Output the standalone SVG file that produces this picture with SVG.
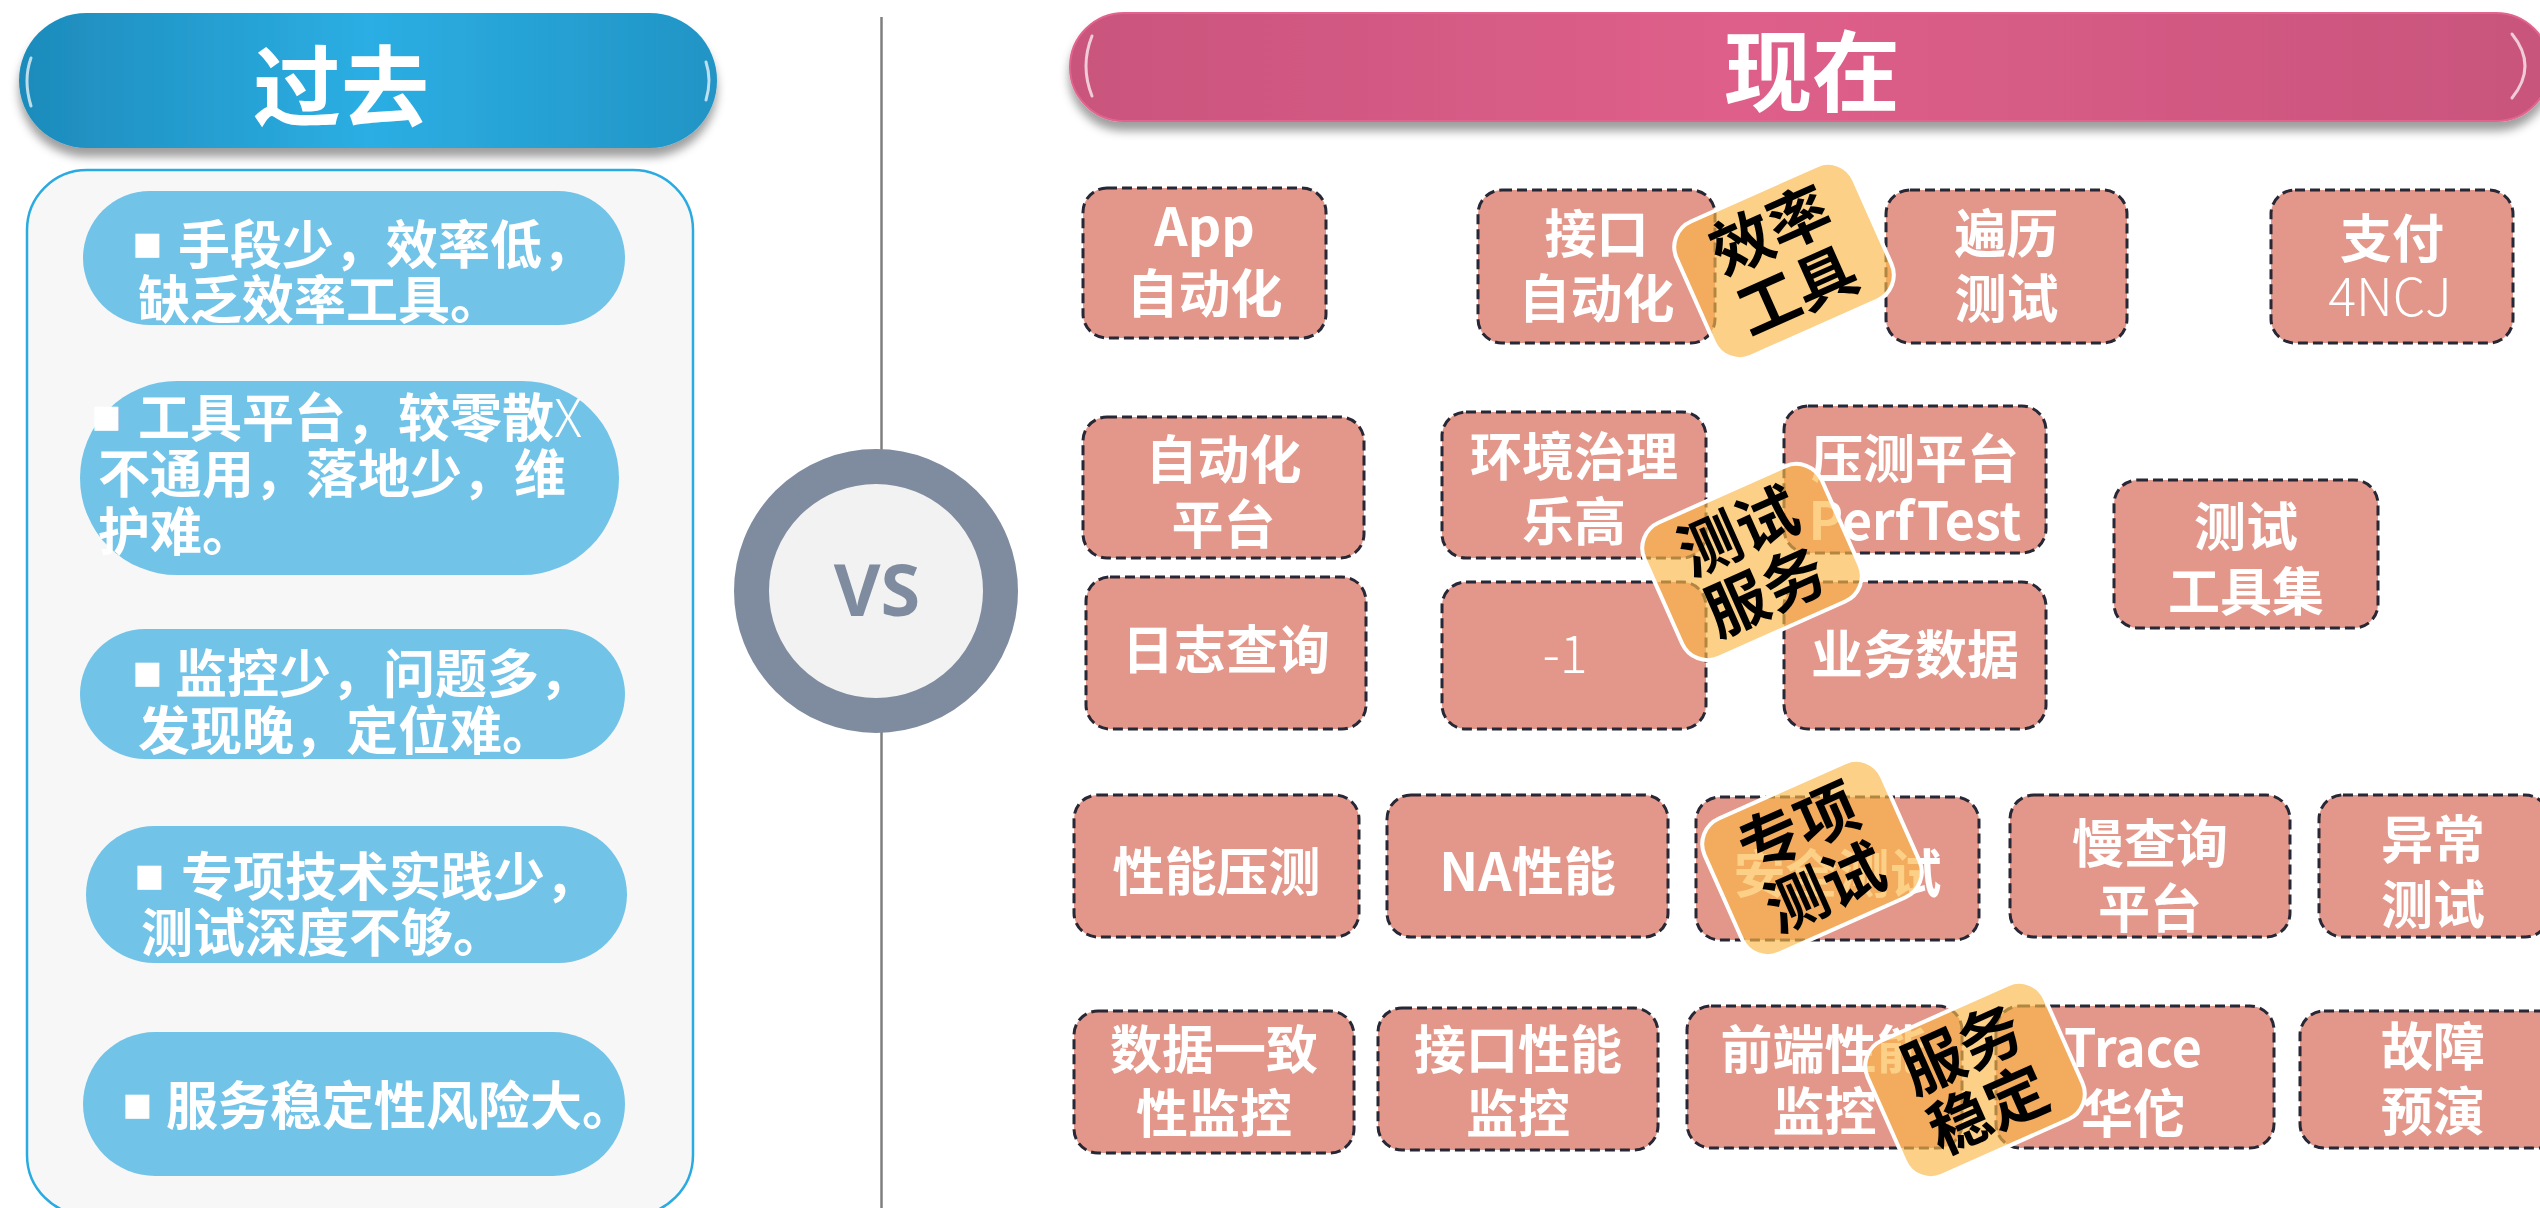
<svg xmlns="http://www.w3.org/2000/svg" width="2540" height="1208" viewBox="0 0 2540 1208">
<defs>
  <linearGradient id="blueGrad" x1="0" y1="0" x2="1" y2="0">
    <stop offset="0" stop-color="#1D8BBB"/>
    <stop offset="0.5" stop-color="#2CAEE3"/>
    <stop offset="1" stop-color="#2194C5"/>
  </linearGradient>
  <linearGradient id="pinkGrad" x1="0" y1="0" x2="1" y2="0">
    <stop offset="0" stop-color="#C9547D"/>
    <stop offset="0.45" stop-color="#DE5F8A"/>
    <stop offset="1" stop-color="#C8547C"/>
  </linearGradient>
  <filter id="shadow" x="-5%" y="-20%" width="110%" height="160%">
    <feDropShadow dx="0" dy="9" stdDeviation="5" flood-color="#000" flood-opacity="0.38"/>
  </filter>
  <style>
    .cjk { font-family: "Noto Sans CJK SC", "Noto Sans", sans-serif; }
    .head { font-size: 88px; font-weight: 700; fill: #FFFFFF; text-anchor: middle; }
    .pill { fill: #72C3E8; }
    .ptext { font-size: 52px; font-weight: 700; fill: #FFFFFF; }
    .bullet { font-family: "DejaVu Sans", sans-serif; font-size: 48px; font-weight: 700; fill: #FFFFFF; }
    .node { fill: #E3978A; stroke: #272735; stroke-width: 3; stroke-dasharray: 10 5; }
    .ntext { font-size: 52px; font-weight: 700; fill: #FFFFFF; text-anchor: middle; }
    .thin { font-weight: 300; }
    .badge { fill: #FBB848; fill-opacity: 0.66; stroke: #FFFFFF; stroke-width: 4; }
    .btext { font-size: 62px; font-weight: 700; fill: #000000; text-anchor: middle; }
    .gloss { fill: none; stroke: #FFFFFF; stroke-width: 3; stroke-opacity: 0.7; stroke-linecap: round; }
  </style>
</defs>
<rect width="2540" height="1208" fill="#FFFFFF"/>

<!-- divider line -->
<g id="connectors">
  <line x1="881.5" y1="17" x2="881.5" y2="1208" stroke="#7F7F7F" stroke-width="2.5"/>
</g>

<!-- Past header -->
<g id="header-past">
  <rect x="19" y="13" width="698" height="135" rx="67.5" fill="url(#blueGrad)" filter="url(#shadow)"/>
  <path class="gloss" d="M 31 58 Q 23 80 31 106"/>
  <path class="gloss" d="M 706 62 Q 712 80 706 100"/>
  <text class="cjk head" x="341" y="119">过去</text>
</g>

<!-- Past panel -->
<g id="panel-past">
  <rect x="27" y="170" width="666" height="1045" rx="60" fill="#F7F7F7" stroke="#29ABE2" stroke-width="2.5"/>
</g>

<g id="past-1">
  <rect class="pill" x="83" y="191" width="542" height="134" rx="67"/>
  <text class="bullet" x="131" y="258">▪</text>
  <text class="cjk ptext"><tspan x="178" y="264">手段少，效率低，</tspan><tspan x="138" y="319">缺乏效率工具。</tspan></text>
</g>
<g id="past-2">
  <rect class="pill" x="80" y="381" width="539" height="194" rx="97"/>
  <text class="bullet" x="90" y="431">▪</text>
  <text class="cjk ptext"><tspan x="138" y="437">工具平台，较零散</tspan><tspan class="thin">X</tspan><tspan x="98" y="493">不通用，落地少，维</tspan><tspan x="98" y="551">护难。</tspan></text>
</g>
<g id="past-3">
  <rect class="pill" x="80" y="629" width="545" height="130" rx="65"/>
  <text class="bullet" x="131" y="687">▪</text>
  <text class="cjk ptext"><tspan x="175" y="693">监控少，问题多，</tspan><tspan x="138" y="750">发现晚，定位难。</tspan></text>
</g>
<g id="past-4">
  <rect class="pill" x="86" y="826" width="541" height="137" rx="68.5"/>
  <text class="bullet" x="133" y="890">▪</text>
  <text class="cjk ptext"><tspan x="181" y="896">专项技术实践少，</tspan><tspan x="141" y="952">测试深度不够。</tspan></text>
</g>
<g id="past-5">
  <rect class="pill" x="83" y="1032" width="542" height="144" rx="72"/>
  <text class="bullet" x="121" y="1119">▪</text>
  <text class="cjk ptext" x="166" y="1125">服务稳定性风险大。</text>
</g>

<!-- VS -->
<g id="vs">
  <circle cx="876" cy="591" r="124.5" fill="#F2F2F2" stroke="#7F8CA0" stroke-width="35"/>
  <text x="877" y="616" font-family="'Open Sans', 'DejaVu Sans', sans-serif" font-size="72" font-weight="700" fill="#7F8CA0" text-anchor="middle">VS</text>
</g>

<!-- Now header -->
<g id="header-now">
  <rect x="1070" y="13" width="1480" height="108" rx="54" fill="url(#pinkGrad)" stroke="#E2648F" stroke-width="2" filter="url(#shadow)"/>
  <path class="gloss" d="M 1092 36 Q 1080 66 1092 96"/>
  <path class="gloss" d="M 2512 34 Q 2538 66 2512 98"/>
  <text class="cjk head" x="1812" y="104">现在</text>
</g>

<!-- Row 1 -->
<g id="n-app">
  <rect class="node" x="1083" y="188" width="243" height="150" rx="24"/>
  <text class="cjk ntext"><tspan x="1204.5" y="246">App</tspan><tspan x="1204.5" y="313">自动化</tspan></text>
</g>
<g id="n-api-auto">
  <rect class="node" x="1478" y="190" width="237" height="153" rx="24"/>
  <text class="cjk ntext"><tspan x="1596.5" y="253">接口</tspan><tspan x="1596.5" y="318">自动化</tspan></text>
</g>
<g id="n-traverse">
  <rect class="node" x="1886" y="190" width="241" height="153" rx="24"/>
  <text class="cjk ntext"><tspan x="2006.5" y="253">遍历</tspan><tspan x="2006.5" y="318">测试</tspan></text>
</g>
<g id="n-pay">
  <rect class="node" x="2271" y="190" width="242" height="153" rx="24"/>
  <text class="cjk ntext"><tspan x="2392" y="258">支付</tspan><tspan class="thin" x="2390" y="316">4NCJ</tspan></text>
</g>

<!-- Row 2 -->
<g id="n-auto-platform">
  <rect class="node" x="1083" y="417" width="281" height="141" rx="24"/>
  <text class="cjk ntext"><tspan x="1223.5" y="479">自动化</tspan><tspan x="1223.5" y="544">平台</tspan></text>
</g>
<g id="n-env">
  <rect class="node" x="1442" y="412" width="264" height="146" rx="24"/>
  <text class="cjk ntext"><tspan x="1574" y="476">环境治理</tspan><tspan x="1574" y="541">乐高</tspan></text>
</g>
<g id="n-perf">
  <rect class="node" x="1784" y="406" width="262" height="147" rx="24"/>
  <text class="cjk ntext"><tspan x="1915" y="478">压测平台</tspan><tspan x="1915" y="540">PerfTest</tspan></text>
</g>
<g id="n-toolset">
  <rect class="node" x="2114" y="480" width="264" height="148" rx="24"/>
  <text class="cjk ntext"><tspan x="2246" y="546">测试</tspan><tspan x="2246" y="611">工具集</tspan></text>
</g>
<g id="n-log">
  <rect class="node" x="1086" y="577" width="280" height="152" rx="24"/>
  <text class="cjk ntext" x="1226" y="669">日志查询</text>
</g>
<g id="n-minus1">
  <rect class="node" x="1442" y="582" width="264" height="147" rx="24"/>
  <text class="cjk ntext thin" x="1565" y="673">-1</text>
</g>
<g id="n-bizdata">
  <rect class="node" x="1784" y="582" width="262" height="147" rx="24"/>
  <text class="cjk ntext" x="1915" y="674">业务数据</text>
</g>

<!-- Row 3 -->
<g id="n-perftest">
  <rect class="node" x="1074" y="795" width="285" height="142" rx="24"/>
  <text class="cjk ntext" x="1216.5" y="891">性能压测</text>
</g>
<g id="n-na">
  <rect class="node" x="1387" y="795" width="281" height="142" rx="24"/>
  <text class="cjk ntext" x="1527.5" y="891">NA性能</text>
</g>
<g id="n-security">
  <rect class="node" x="1696" y="797" width="283" height="143" rx="24"/>
  <text class="cjk ntext" x="1837.5" y="893">安全测试</text>
</g>
<g id="n-slowquery">
  <rect class="node" x="2010" y="795" width="280" height="142" rx="24"/>
  <text class="cjk ntext"><tspan x="2150" y="863">慢查询</tspan><tspan x="2150" y="928">平台</tspan></text>
</g>
<g id="n-exception">
  <rect class="node" x="2319" y="795" width="230" height="142" rx="24"/>
  <text class="cjk ntext"><tspan x="2433" y="859">异常</tspan><tspan x="2433" y="924">测试</tspan></text>
</g>

<!-- Row 4 -->
<g id="n-consistency">
  <rect class="node" x="1074" y="1011" width="280" height="142" rx="24"/>
  <text class="cjk ntext"><tspan x="1214" y="1069">数据一致</tspan><tspan x="1214" y="1133">性监控</tspan></text>
</g>
<g id="n-api-perf">
  <rect class="node" x="1378" y="1008" width="280" height="142" rx="24"/>
  <text class="cjk ntext"><tspan x="1518" y="1069">接口性能</tspan><tspan x="1518" y="1133">监控</tspan></text>
</g>
<g id="n-frontend">
  <rect class="node" x="1687" y="1006" width="275" height="142" rx="24"/>
  <text class="cjk ntext"><tspan x="1824.5" y="1069">前端性能</tspan><tspan x="1824.5" y="1131">监控</tspan></text>
</g>
<g id="n-trace">
  <rect class="node" x="1996" y="1006" width="278" height="142" rx="24"/>
  <text class="cjk ntext"><tspan x="2133" y="1067">Trace</tspan><tspan x="2133" y="1133">华佗</tspan></text>
</g>
<g id="n-fault">
  <rect class="node" x="2300" y="1011" width="266" height="137" rx="24"/>
  <text class="cjk ntext"><tspan x="2433" y="1066">故障</tspan><tspan x="2433" y="1131">预演</tspan></text>
</g>

<!-- Badges -->
<g id="b-efficiency" transform="translate(1784 261) rotate(-24)">
  <rect class="badge" x="-97" y="-74" width="194" height="148" rx="28"/>
  <text class="cjk btext"><tspan x="0" y="-11">效率</tspan><tspan x="0" y="55">工具</tspan></text>
</g>
<g id="b-testservice" transform="translate(1752 562) rotate(-24)">
  <rect class="badge" x="-97" y="-74" width="194" height="148" rx="28"/>
  <text class="cjk btext"><tspan x="0" y="-11">测试</tspan><tspan x="0" y="55">服务</tspan></text>
</g>
<g id="b-special" transform="translate(1812 858) rotate(-24)">
  <rect class="badge" x="-97" y="-74" width="194" height="148" rx="28"/>
  <text class="cjk btext"><tspan x="0" y="-11">专项</tspan><tspan x="0" y="55">测试</tspan></text>
</g>
<g id="b-stability" transform="translate(1975 1080) rotate(-24)">
  <rect class="badge" x="-97" y="-74" width="194" height="148" rx="28"/>
  <text class="cjk btext"><tspan x="0" y="-11">服务</tspan><tspan x="0" y="55">稳定</tspan></text>
</g>
</svg>
